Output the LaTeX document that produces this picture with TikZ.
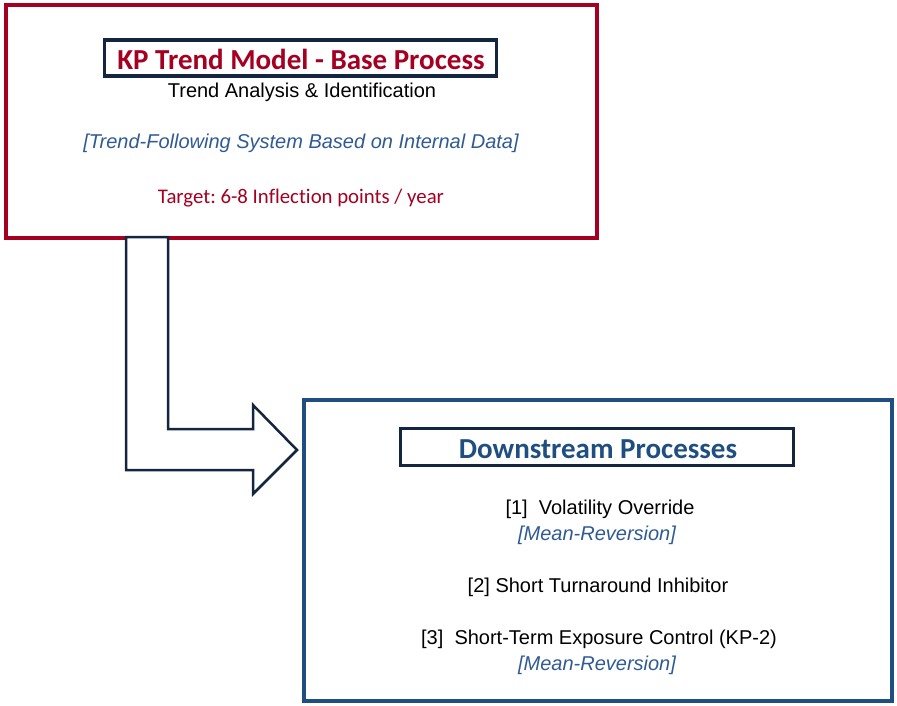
\documentclass[tikz,border=0pt]{standalone}
\usepackage{fontspec}
\setmainfont{Liberation Sans}
\newfontfamily\calibri[Ligatures=NoCommon]{Carlito}
\frenchspacing

\definecolor{kpred}{HTML}{A50021}
\definecolor{kpnavy}{HTML}{14253F}
\definecolor{kpblue}{HTML}{1F4E80}
\definecolor{kptext}{HTML}{2F5A94}

\tikzset{
  outerbox/.style = {line width = 4pt},
  titlebox/.style = {draw = kpnavy, line width = 3.5pt, inner sep = 0pt},
  heading/.style = {font = \calibri\bfseries\fontsize{29}{34}\selectfont, anchor = base},
  body/.style = {font = \fontsize{20}{24}\selectfont, anchor = base},
  note/.style = {font = \fontsize{20}{24}\selectfont\itshape, text = kptext, anchor = base},
}

\begin{document}
\begin{tikzpicture}[x = 1pt, y = -1pt]
\useasboundingbox (0, 0) rectangle (897, 706);

% base process box
\draw [outerbox, color = kpred] (6, 5) rectangle (597, 238);
\node (basetitle) [titlebox, minimum width = 392, minimum height = 36] at (300.5, 58) {};
\node (basehead) [heading, text = kpred] at (301, 70) {KP Trend Model - Base Process};
\node (basesub) [body] at (302, 98) {Trend Analysis \& Identification};
\node (basenote) [note] at (301, 149) {[Trend-Following System Based on Internal Data]};
\node (target) [body, font = \calibri\fontsize{20.8}{24}\selectfont, text = kpred] at (301, 204) {Target: 6-8 Inflection points / year};

% downstream box
\draw [outerbox, color = kpblue] (304, 400) rectangle (892, 701);
\node (downtitle) [titlebox, minimum width = 393, minimum height = 37] at (597, 447) {};
\node (downhead) [heading, text = kpblue] at (598, 458) {Downstream Processes};
\node (step1) [body] at (600, 514) {[1]\ \ Volatility Override};
\node (rev1) [note] at (597, 540) {[Mean-Reversion]};
\node (step2) [body] at (598, 592) {[2] Short Turnaround Inhibitor};
\node (step3) [body] at (599, 644) {[3]\ \ Short-Term Exposure Control (KP-2)};
\node (rev3) [note] at (597, 670) {[Mean-Reversion]};

% bent block arrow
\draw [kpnavy, fill = white, line width = 2.5pt, line join = miter]
  (126, 237) -- (168, 237) -- (168, 429) -- (253, 429) -- (253, 405)
  -- (297, 450) -- (253, 494) -- (253, 470) -- (126, 470) -- cycle;
\end{tikzpicture}
\end{document}
